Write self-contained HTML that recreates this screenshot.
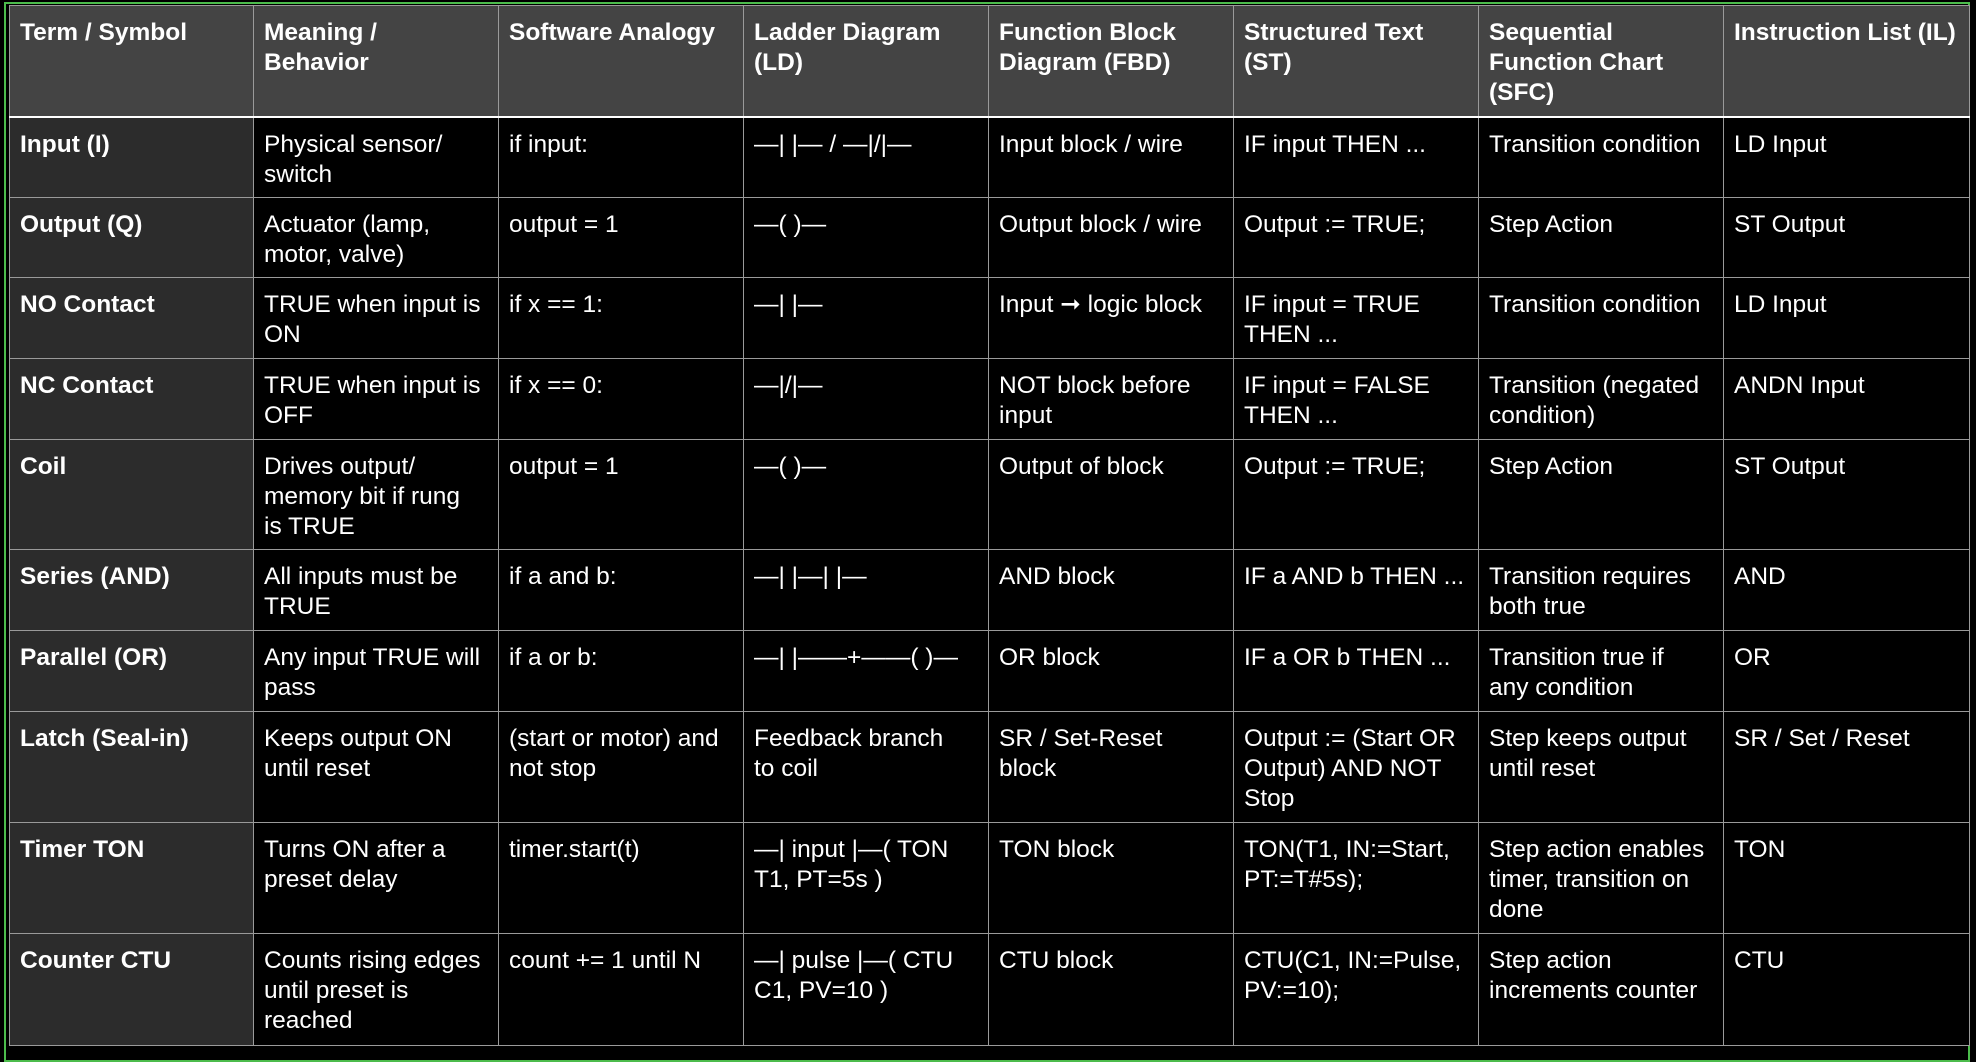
<!DOCTYPE html>
<html><head><meta charset="utf-8"><style>
html,body{margin:0;padding:0;background:#000;width:1976px;height:1042px;overflow:hidden}
.frame{position:absolute;left:4px;top:2px;width:1966px;height:1060px;border:2px solid #4cbc4c;box-sizing:border-box}
table{position:absolute;left:9px;top:5px;width:1960px;border-collapse:collapse;table-layout:fixed;font-family:"Liberation Sans",sans-serif;font-size:24.5px;line-height:30px;color:#fff}
td,th{border:1px solid #9a9a9a;vertical-align:top;text-align:left;padding:12px 10px 0 10px;box-sizing:border-box;overflow:hidden}
th{background:#444;font-weight:bold;border-bottom:2px solid #fff}
td{background:#000}
td:first-child{background:#2c2c2c;font-weight:bold}
</style></head><body>
<div class="frame"></div>
<table>
<colgroup><col style="width:244px"><col style="width:245px"><col style="width:245px"><col style="width:245px"><col style="width:245px"><col style="width:245px"><col style="width:245px"><col style="width:246px"></colgroup>
<tr style="height:111px"><th>Term / Symbol</th><th>Meaning /<br>Behavior</th><th>Software Analogy</th><th>Ladder Diagram (LD)</th><th>Function Block Diagram (FBD)</th><th>Structured Text (ST)</th><th>Sequential Function Chart (SFC)</th><th>Instruction List (IL)</th></tr>
<tr style="height:81px"><td>Input (I)</td><td>Physical sensor/ switch</td><td>if input:</td><td>—| |— / —|/|—</td><td>Input block / wire</td><td>IF input THEN ...</td><td>Transition condition</td><td>LD Input</td></tr>
<tr style="height:80px"><td>Output (Q)</td><td>Actuator (lamp,<br>motor, valve)</td><td>output = 1</td><td>—( )—</td><td>Output block / wire</td><td>Output := TRUE;</td><td>Step Action</td><td>ST Output</td></tr>
<tr style="height:81px"><td>NO Contact</td><td>TRUE when input is ON</td><td>if x == 1:</td><td>—| |—</td><td>Input ➞ logic block</td><td>IF input = TRUE THEN ...</td><td>Transition condition</td><td>LD Input</td></tr>
<tr style="height:81px"><td>NC Contact</td><td>TRUE when input is OFF</td><td>if x == 0:</td><td>—|/|—</td><td>NOT block before input</td><td>IF input = FALSE THEN ...</td><td>Transition (negated condition)</td><td>ANDN Input</td></tr>
<tr style="height:110px"><td>Coil</td><td>Drives output/<br>memory bit if rung<br>is TRUE</td><td>output = 1</td><td>—( )—</td><td>Output of block</td><td>Output := TRUE;</td><td>Step Action</td><td>ST Output</td></tr>
<tr style="height:81px"><td>Series (AND)</td><td>All inputs must be TRUE</td><td>if a and b:</td><td>—| |—| |—</td><td>AND block</td><td>IF a AND b THEN ...</td><td>Transition requires both true</td><td>AND</td></tr>
<tr style="height:81px"><td>Parallel (OR)</td><td>Any input TRUE will pass</td><td>if a or b:</td><td>—| |——+——( )—</td><td>OR block</td><td>IF a OR b THEN ...</td><td>Transition true if<br>any condition</td><td>OR</td></tr>
<tr style="height:111px"><td>Latch (Seal-in)</td><td>Keeps output ON until reset</td><td>(start or motor) and not stop</td><td>Feedback branch<br>to coil</td><td>SR / Set-Reset block</td><td>Output := (Start OR Output) AND NOT Stop</td><td>Step keeps output until reset</td><td>SR / Set / Reset</td></tr>
<tr style="height:111px"><td>Timer TON</td><td>Turns ON after a preset delay</td><td>timer.start(t)</td><td>—| input |—( TON T1, PT=5s )</td><td>TON block</td><td>TON(T1, IN:=Start, PT:=T#5s);</td><td>Step action enables timer, transition on done</td><td>TON</td></tr>
<tr style="height:112px"><td>Counter CTU</td><td>Counts rising edges until preset is reached</td><td>count += 1 until N</td><td>—| pulse |—( CTU C1, PV=10 )</td><td>CTU block</td><td>CTU(C1, IN:=Pulse, PV:=10);</td><td>Step action increments counter</td><td>CTU</td></tr>
</table>
</body></html>
